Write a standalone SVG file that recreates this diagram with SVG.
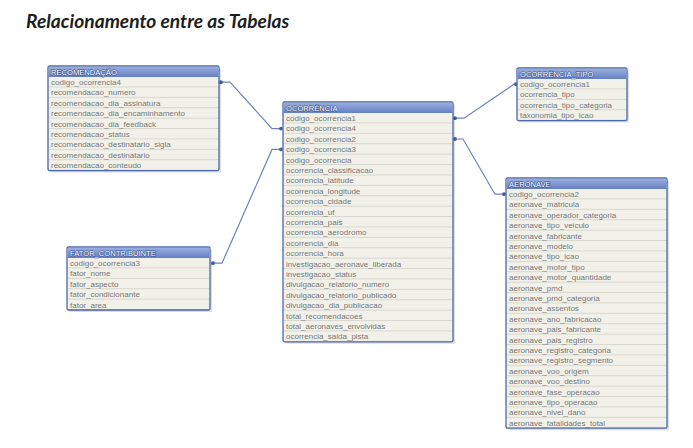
<svg xmlns="http://www.w3.org/2000/svg" width="693" height="448" viewBox="0 0 693 448">
<style>
.title{font-family:"Lato","Liberation Sans",sans-serif;font-weight:bold;font-style:italic;font-size:19.2px;fill:#1e1e1e}
.hd{font-family:"Liberation Sans","DejaVu Sans",sans-serif;font-size:7.6px;fill:#ffffff;stroke:#3a5896;stroke-width:1.2px;paint-order:stroke;stroke-linejoin:round}
.r{font-family:"Liberation Sans","DejaVu Sans",sans-serif;font-size:8px;fill:#777777}
.box{fill:url(#rows);stroke:#4d68a8;stroke-width:1.3}
.sh{fill:#000;opacity:0.13}
.hbar{fill:url(#hg)}
.con{fill:none;stroke:#6f82b9;stroke-width:1.2}
.dot{fill:#3e5ea6}
</style>
<defs>
<linearGradient id="hg" x1="0" y1="0" x2="0" y2="1">
<stop offset="0" stop-color="#9aaee0"/>
<stop offset="1" stop-color="#6580c2"/>
</linearGradient>
<pattern id="rows" patternUnits="userSpaceOnUse" x="0" y="11" width="700" height="10.4">
<rect width="700" height="10.4" fill="#f2f1e9"/>
<rect y="9.7" width="700" height="0.7" fill="#cfcec5"/>
</pattern>
</defs>
<rect width="693" height="448" fill="#ffffff"/>
<text class="title" x="26" y="28">Relacionamento entre as Tabelas</text>

<g id="connectors">
<path class="con" d="M221,82.2 H230 L272,128.6 H281"/>
<path class="con" d="M212,263.2 H222 L272,149.4 H281"/>
<path class="con" d="M455,118.2 H464 L514,84.2 H516"/>
<path class="con" d="M455,139 H463 L495,194.2 H504"/>
<circle class="dot" cx="221" cy="82.2" r="1.9"/>
<circle class="dot" cx="281" cy="128.6" r="1.9"/>
<circle class="dot" cx="213" cy="263.2" r="1.9"/>
<circle class="dot" cx="281" cy="149.4" r="1.9"/>
<circle class="dot" cx="455" cy="118.2" r="1.9"/>
<circle class="dot" cx="516" cy="84.2" r="1.9"/>
<circle class="dot" cx="455" cy="139" r="1.9"/>
<circle class="dot" cx="504" cy="194.2" r="1.9"/>
</g>

<g id="recomendacao" transform="translate(48,66)">
<rect class="sh" x="2" y="2" width="171" height="104.6" rx="1.5"/>
<rect class="box" x="0" y="0" width="171" height="104.6" rx="1.5"/>
<rect class="hbar" x="0.7" y="0.7" width="169.6" height="10.3"/>
<text class="hd" x="3" y="8.6">RECOMENDAÇÃO</text>
<text class="r" x="3" y="19"><tspan x="3">codigo_ocorrencia4</tspan><tspan x="3" dy="10.4">recomendacao_numero</tspan><tspan x="3" dy="10.4">recomendacao_dia_assinatura</tspan><tspan x="3" dy="10.4">recomendacao_dia_encaminhamento</tspan><tspan x="3" dy="10.4">recomendacao_dia_feedback</tspan><tspan x="3" dy="10.4">recomendacao_status</tspan><tspan x="3" dy="10.4">recomendacao_destinatario_sigla</tspan><tspan x="3" dy="10.4">recomendacao_destinatario</tspan><tspan x="3" dy="10.4">recomendacao_conteudo</tspan></text>
</g>

<g id="fator_contribuinte" transform="translate(67,247)">
<rect class="sh" x="2" y="2" width="143" height="63" rx="1.5"/>
<rect class="box" x="0" y="0" width="143" height="63" rx="1.5"/>
<rect class="hbar" x="0.7" y="0.7" width="141.6" height="10.3"/>
<text class="hd" x="3" y="8.6">FATOR_CONTRIBUINTE</text>
<text class="r" x="3" y="19"><tspan x="3">codigo_ocorrencia3</tspan><tspan x="3" dy="10.4">fator_nome</tspan><tspan x="3" dy="10.4">fator_aspecto</tspan><tspan x="3" dy="10.4">fator_condicionante</tspan><tspan x="3" dy="10.4">fator_area</tspan></text>
</g>

<g id="ocorrencia" transform="translate(283,102)">
<rect class="sh" x="2" y="2" width="170" height="239.8" rx="1.5"/>
<rect class="box" x="0" y="0" width="170" height="239.8" rx="1.5"/>
<rect class="hbar" x="0.7" y="0.7" width="168.6" height="10.3"/>
<text class="hd" x="3" y="8.6">OCORRÊNCIA</text>
<text class="r" x="3" y="19"><tspan x="3">codigo_ocorrencia1</tspan><tspan x="3" dy="10.4">codigo_ocorrencia4</tspan><tspan x="3" dy="10.4">codigo_ocorrencia2</tspan><tspan x="3" dy="10.4">codigo_ocorrencia3</tspan><tspan x="3" dy="10.4">codigo_ocorrencia</tspan><tspan x="3" dy="10.4">ocorrencia_classificacao</tspan><tspan x="3" dy="10.4">ocorrencia_latitude</tspan><tspan x="3" dy="10.4">ocorrencia_longitude</tspan><tspan x="3" dy="10.4">ocorrencia_cidade</tspan><tspan x="3" dy="10.4">ocorrencia_uf</tspan><tspan x="3" dy="10.4">ocorrencia_pais</tspan><tspan x="3" dy="10.4">ocorrencia_aerodromo</tspan><tspan x="3" dy="10.4">ocorrencia_dia</tspan><tspan x="3" dy="10.4">ocorrencia_hora</tspan><tspan x="3" dy="10.4">investigacao_aeronave_liberada</tspan><tspan x="3" dy="10.4">investigacao_status</tspan><tspan x="3" dy="10.4">divulgacao_relatorio_numero</tspan><tspan x="3" dy="10.4">divulgacao_relatorio_publicado</tspan><tspan x="3" dy="10.4">divulgacao_dia_publicacao</tspan><tspan x="3" dy="10.4">total_recomendacoes</tspan><tspan x="3" dy="10.4">total_aeronaves_envolvidas</tspan><tspan x="3" dy="10.4">ocorrencia_saida_pista</tspan></text>
</g>

<g id="ocorrencia_tipo" transform="translate(517,68)">
<rect class="sh" x="2" y="2" width="110" height="52.6" rx="1.5"/>
<rect class="box" x="0" y="0" width="110" height="52.6" rx="1.5"/>
<rect class="hbar" x="0.7" y="0.7" width="108.6" height="10.3"/>
<text class="hd" x="3" y="8.6">OCORRÊNCIA_TIPO</text>
<text class="r" x="3" y="19"><tspan x="3">codigo_ocorrencia1</tspan><tspan x="3" dy="10.4">ocorrencia_tipo</tspan><tspan x="3" dy="10.4">ocorrencia_tipo_categoria</tspan><tspan x="3" dy="10.4">taxonomia_tipo_icao</tspan></text>
</g>

<g id="aeronave" transform="translate(506,178)">
<rect class="sh" x="2" y="2" width="161" height="250.2" rx="1.5"/>
<rect class="box" x="0" y="0" width="161" height="250.2" rx="1.5"/>
<rect class="hbar" x="0.7" y="0.7" width="159.6" height="10.3"/>
<text class="hd" x="3" y="8.6">AERONAVE</text>
<text class="r" x="3" y="19"><tspan x="3">codigo_ocorrencia2</tspan><tspan x="3" dy="10.4">aeronave_matricula</tspan><tspan x="3" dy="10.4">aeronave_operador_categoria</tspan><tspan x="3" dy="10.4">aeronave_tipo_veiculo</tspan><tspan x="3" dy="10.4">aeronave_fabricante</tspan><tspan x="3" dy="10.4">aeronave_modelo</tspan><tspan x="3" dy="10.4">aeronave_tipo_icao</tspan><tspan x="3" dy="10.4">aeronave_motor_tipo</tspan><tspan x="3" dy="10.4">aeronave_motor_quantidade</tspan><tspan x="3" dy="10.4">aeronave_pmd</tspan><tspan x="3" dy="10.4">aeronave_pmd_categoria</tspan><tspan x="3" dy="10.4">aeronave_assentos</tspan><tspan x="3" dy="10.4">aeronave_ano_fabricacao</tspan><tspan x="3" dy="10.4">aeronave_pais_fabricante</tspan><tspan x="3" dy="10.4">aeronave_pais_registro</tspan><tspan x="3" dy="10.4">aeronave_registro_categoria</tspan><tspan x="3" dy="10.4">aeronave_registro_segmento</tspan><tspan x="3" dy="10.4">aeronave_voo_origem</tspan><tspan x="3" dy="10.4">aeronave_voo_destino</tspan><tspan x="3" dy="10.4">aeronave_fase_operacao</tspan><tspan x="3" dy="10.4">aeronave_tipo_operacao</tspan><tspan x="3" dy="10.4">aeronave_nivel_dano</tspan><tspan x="3" dy="10.4">aeronave_fatalidades_total</tspan></text>
</g>
</svg>
